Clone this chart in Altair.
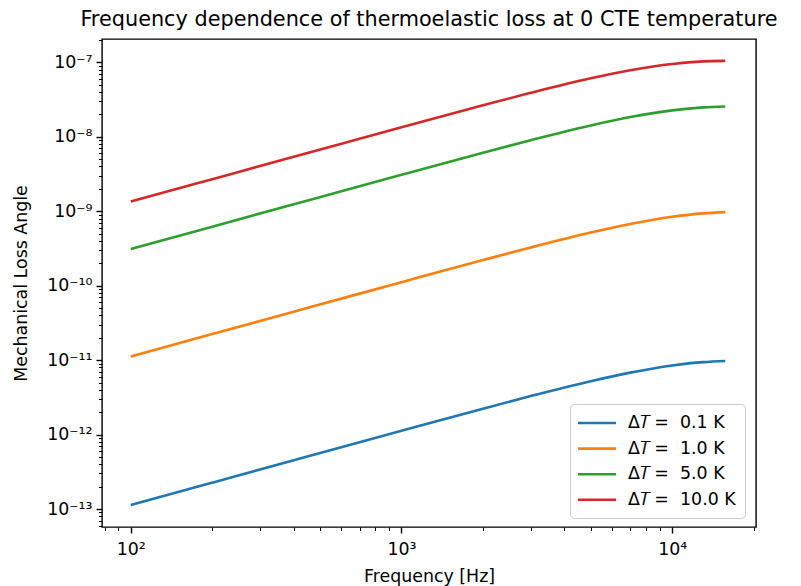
import altair as alt
import pandas as pd

# ---- data ----
freqs = [100, 200, 400, 700, 1000, 2000, 3000, 5000, 7000, 10000, 13000, 15700]
loss_01 = [1.13e-13, 2.26e-13, 4.52e-13, 7.9e-13, 1.126e-12, 2.23e-12, 3.29e-12,
           5.21e-12, 6.80e-12, 8.48e-12, 9.41e-12, 9.76e-12]
loss_1 = [1.12e-11, 2.24e-11, 4.478e-11, 7.83e-11, 1.116e-10, 2.211e-10, 3.264e-10,
          5.177e-10, 6.759e-10, 8.443e-10, 9.382e-10, 9.743e-10]
loss_5 = [3.11e-10, 6.22e-10, 1.243e-9, 2.173e-9, 3.099e-9, 6.13e-9, 9.03e-9,
          1.4237e-8, 1.8437e-8, 2.2718e-8, 2.4902e-8, 2.5571e-8]
loss_10 = [1.35e-9, 2.70e-9, 5.40e-9, 9.43e-9, 1.345e-8, 2.656e-8, 3.905e-8,
           6.118e-8, 7.859e-8, 9.552e-8, 1.0333e-7, 1.05e-7]
series_labels = ["Δ\U0001D447\u2009=\u00a0\u00a00.1 K", "Δ\U0001D447\u2009=\u00a0\u00a01.0 K",
                 "Δ\U0001D447\u2009=\u00a0\u00a05.0 K", "Δ\U0001D447\u2009=\u00a0\u00a010.0 K"]
series_colors = ["#1f77b4", "#ff7f0e", "#2ca02c", "#d62728"]

x_major = [100, 1000, 10000]
x_major_labels = ["10²", "10³", "10⁴"]
x_minor = [80, 90] + [k * 100 for k in range(2, 10)] + [k * 1000 for k in range(2, 10)] + [20000]
y_major = [1e-13, 1e-12, 1e-11, 1e-10, 1e-9, 1e-8, 1e-7]
y_major_labels = ["10⁻¹³", "10⁻¹²", "10⁻¹¹", "10⁻¹⁰", "10⁻⁹", "10⁻⁸", "10⁻⁷"]
y_minor = [k * 10.0 ** e for e in range(-14, -6) for k in range(2, 10)]
y_minor = [v for v in y_minor if 5.8e-14 < v < 2.06e-7]

rows = []
for lab, vals in zip(series_labels, [loss_01, loss_1, loss_5, loss_10]):
    for f, v in zip(freqs, vals):
        rows.append({"freq": f, "loss": v, "label": lab})
df = pd.DataFrame(rows)

FONT = "DejaVu Sans"
xscale = alt.Scale(type="log", domain=[78.3, 20390], nice=False)
yscale = alt.Scale(type="log", domain=[5.73e-14, 2.065e-7], nice=False)

x_expr = "[" + ",".join(f"'{s}'" for s in x_major_labels) + "][round(log(datum.value)/LN10)-2]"
y_expr = "[" + ",".join(f"'{s}'" for s in y_major_labels) + "][round(log(datum.value)/LN10)+13]"

common_axis = dict(grid=False, domain=False, tickColor="black", labelColor="black",
                   labelFont=FONT, labelFontSize=17.4, titleFont=FONT, titleFontSize=17.4,
                   titleColor="black", titleFontWeight="normal")

lines = alt.Chart(df).mark_line(strokeWidth=2.6, interpolate="monotone", clip=True).encode(
    x=alt.X("freq:Q", scale=xscale,
            axis=alt.Axis(values=x_major, labelExpr=x_expr, title="Frequency [Hz]",
                          tickSize=6, tickWidth=1.4, labelPadding=7, titlePadding=10,
                          orient="bottom", labelFlush=False, labelOverlap=False, **common_axis)),
    y=alt.Y("loss:Q", scale=yscale,
            axis=alt.Axis(values=y_major, labelExpr=y_expr, title="Mechanical Loss Angle",
                          tickSize=6, tickWidth=1.4, labelPadding=4, titlePadding=16,
                          orient="left", labelFlush=False, labelOverlap=False, **common_axis)),
    color=alt.Color("label:N", sort=series_labels,
                    scale=alt.Scale(domain=series_labels, range=series_colors),
                    legend=alt.Legend(title=None, orient="none", legendX=468, legendY=365,
                                      fillColor="rgba(255,255,255,0.8)", strokeColor="#cccccc",
                                      cornerRadius=4, padding=9, rowPadding=6.6,
                                      symbolType="M-2.2,0H2.2", symbolSize=300,
                                      symbolStrokeWidth=2.6, symbolOffset=8,
                                      labelOffset=21, labelFont=FONT, labelFontSize=17.4,
                                      labelColor="black")),
)

minor = alt.Chart(df).mark_line(opacity=0).encode(
    x=alt.X("freq:Q", scale=xscale,
            axis=alt.Axis(values=x_minor, labels=False, title=None, tickSize=3.5,
                          tickWidth=1, orient="bottom", grid=False, domain=False, tickColor="black")),
    y=alt.Y("loss:Q", scale=yscale,
            axis=alt.Axis(values=y_minor, labels=False, title=None, tickSize=3.5,
                          tickWidth=1, orient="left", grid=False, domain=False, tickColor="black")),
    detail="label:N",
)

chart = alt.layer(lines, minor).resolve_axis(x="independent", y="independent").properties(
    width=654, height=488,
    title=alt.Title("Frequency dependence of thermoelastic loss at 0 CTE temperature",
                    font=FONT, fontSize=20.8, fontWeight="normal", color="black",
                    anchor="middle", offset=8),
    padding={"left": 102, "top": 39, "right": 45, "bottom": 59},
    autosize=alt.AutoSizeParams(type="none"),
    background="white",
).configure_view(stroke="black", strokeWidth=1.4)

chart.save("out.html", embed_options={"renderer": "svg", "actions": False})
